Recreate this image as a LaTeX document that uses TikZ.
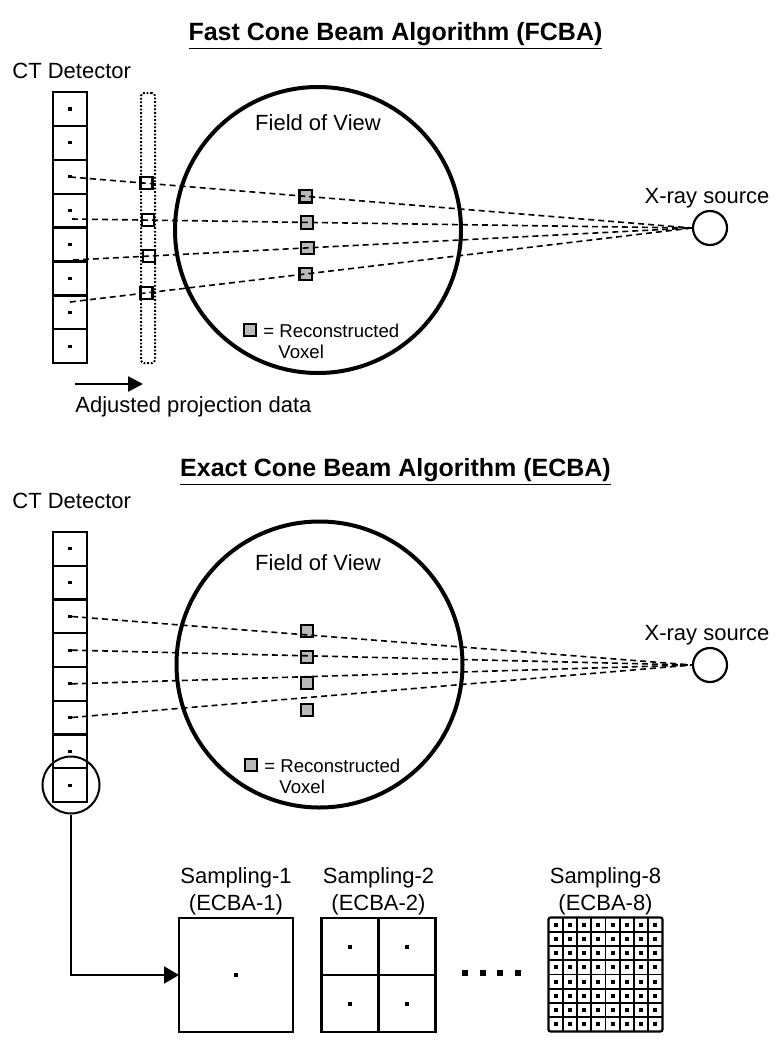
\documentclass[tikz,border=0pt]{standalone}
\usepackage{fontspec}
\setmainfont{Liberation Sans}
\usetikzlibrary{positioning,calc,arrows.meta}

\tikzset{
  cell/.style={draw, line width=1.1pt, minimum width=17pt, minimum height=16.9pt, inner sep=0pt, outer sep=0pt},
  pix/.style={fill, inner sep=0pt, minimum size=1.6pt},
  ray/.style={line width=0.8pt, dash pattern=on 3pt off 2pt},
  voxel/.style={draw, line width=1.1pt, fill=gray!55, minimum size=6.2pt, inner sep=0pt},
  bin/.style={draw, line width=1.1pt, fill=white, minimum size=6pt, inner sep=0pt},
  fov/.style={draw, circle, line width=2pt, minimum size=143pt, inner sep=0pt},
  src/.style={draw, circle, line width=1.1pt, minimum size=17pt, inner sep=0pt},
  lbl/.style={font=\fontsize{11}{13}\selectfont, inner sep=0pt},
  keytxt/.style={font=\fontsize{9.3}{11}\selectfont, inner sep=0pt},
  ttl/.style={font=\fontsize{12.5}{15}\selectfont\bfseries, inner sep=0pt},
  sbox/.style={draw, line width=1.1pt, minimum size=57pt, inner sep=0pt, outer sep=0pt},
}

\begin{document}
\begin{tikzpicture}[x=0.5pt,y=-0.5pt]
\useasboundingbox (0,0) rectangle (779,1050);

%% Fast cone beam
\node[ttl, anchor=base] (ttlt) at (395.5,40) {\underline{Fast Cone Beam Algorithm (FCBA)}};
\node[lbl, anchor=base west] (ctt) at (12,78) {CT Detector};
\foreach \i in {1,...,8} {
  \node[cell] (dt\i) at (70,{92+33.9*(\i-0.5)}) {};
  \node[pix] (dtp\i) at (dt\i.center) {};
}
\node[draw, line width=1pt, dash pattern=on 0.9pt off 0.9pt, rounded corners=1.5pt,
  minimum width=7pt, minimum height=135pt, inner sep=0pt] (adj) at (148,228) {};

\node[src] (xt) at (710,228) {};
\node[lbl, anchor=base] (xtl) at (707,203) {X-ray source};
\node[fov] (fovt) at (318,230) {};
\node[lbl, anchor=base] (fovtl) at (318,130) {Field of View};

\coordinate (a1) at (70,177);
\coordinate (a2) at (72,219);
\coordinate (a3) at (73,260);
\coordinate (a4) at (70,302);
\foreach \k in {1,...,4} {
  \node[bin] (bt\k) at ($(a\k)!0.123!(xt.west)$) {};
  \node[voxel] (vt\k) at ($(a\k)!0.379!(xt.west)$) {};
}
\foreach \k in {1,...,4}
  \draw[ray] (a\k) -- (xt.west);

\node[voxel] (keyt) at (250,330) {};
\node[keytxt, anchor=base west] (keytl) at (263,337) {= Reconstructed};
\node[keytxt, anchor=base west] (keytv) at (278,358) {Voxel};

\coordinate (ar0) at (75,384);
\coordinate (ar1) at (143,384);
\draw[line width=1.3pt, -{Triangle[length=7.5pt,width=7.5pt]}] (ar0) -- (ar1);
\node[lbl, anchor=base west] (adjl) at (75,412) {Adjusted projection data};

%% Exact cone beam
\node[ttl, anchor=base] (ttlb) at (395.5,476) {\underline{Exact Cone Beam Algorithm (ECBA)}};
\node[lbl, anchor=base west] (ctb) at (12,508) {CT Detector};
\foreach \i in {1,...,8} {
  \node[cell] (db\i) at (70,{532+33.75*(\i-0.5)}) {};
  \node[pix] (dbp\i) at (db\i.center) {};
}
\node[src] (xb) at (710,665) {};
\node[lbl, anchor=base] (xbl) at (707,640) {X-ray source};
\node[fov] (fovb) at (319.5,664.5) {};
\node[lbl, anchor=base] (fovbl) at (318,570) {Field of View};

\foreach \k/\y in {1/631,2/657,3/683,4/710}
  \node[voxel] (vb\k) at (307,\y) {};
\foreach \k in {3,...,6}
  \draw[ray] (dbp\k) -- (xb.west);

\node[voxel] (keyb) at (251,765) {};
\node[keytxt, anchor=base west] (keybl) at (264,772) {= Reconstructed};
\node[keytxt, anchor=base west] (keybv) at (279,793) {Voxel};

\node[draw, circle, line width=1pt, minimum size=28.5pt, inner sep=0pt] (zc) at (71,785) {};

% sampling boxes
\node[sbox] (s1) at (236,975) {};
\node[pix, minimum size=2pt] (s1p) at (s1.center) {};
\node[lbl, anchor=base] (s1a) at (236,883) {Sampling-1};
\node[lbl, anchor=base] (s1b) at (236,910) {(ECBA-1)};

\node[sbox] (s2) at (378.5,975) {};
\draw[line width=1.1pt] (s2.north) -- (s2.south) (s2.west) -- (s2.east);
\foreach \u/\v [count=\n] in {-1/-1,1/-1,-1/1,1/1}
  \node[pix, minimum size=2pt] (s2p\n) at ($(s2.center)+({28.5*(\u)},{28.5*(\v)})$) {};
\node[lbl, anchor=base] (s2a) at (378.5,883) {Sampling-2};
\node[lbl, anchor=base] (s2b) at (378.5,910) {(ECBA-2)};

\foreach \x [count=\n] in {465,483,500,518}
  \node[fill, inner sep=0pt, minimum size=3pt] (dd\n) at (\x,973) {};

\node[sbox, rounded corners=1pt] (s8) at (605.5,974.5) {};
\foreach \k in {1,...,7} {
  \draw[line width=0.8pt] ($(s8.north west)+({\k*14.25},0)$) -- ($(s8.south west)+({\k*14.25},0)$);
  \draw[line width=0.8pt] ($(s8.north west)+(0,{\k*14.25})$) -- ($(s8.north east)+(0,{\k*14.25})$);
}
\foreach \i in {1,...,8}
  \foreach \j in {1,...,8}
    \node[pix, minimum size=2pt] (g\i\j) at ($(s8.north west)+({(\i-0.5)*14.25},{(\j-0.5)*14.25})$) {};
\node[lbl, anchor=base] (s8a) at (605.5,883) {Sampling-8};
\node[lbl, anchor=base] (s8b) at (605.5,910) {(ECBA-8)};

\draw[line width=1pt, -{Triangle[length=7.5pt,width=8.5pt]}] (zc.south) |- (s1.west);
\end{tikzpicture}
\end{document}
